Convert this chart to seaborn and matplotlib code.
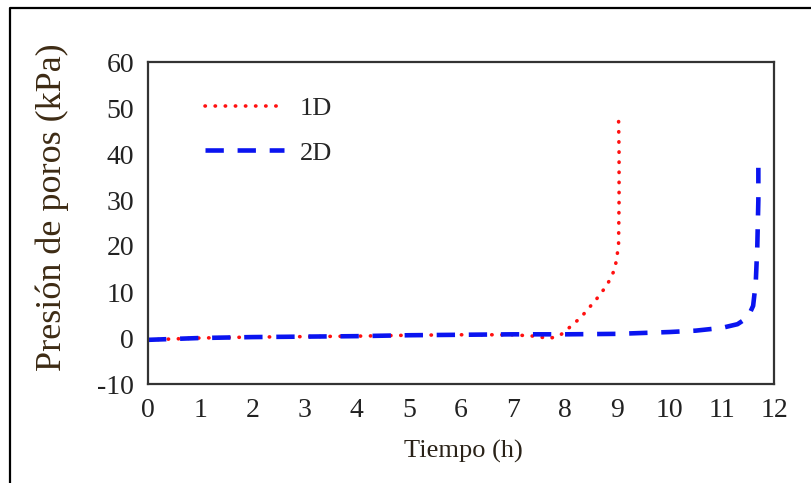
import numpy as np
import pandas as pd
import seaborn as sns
import matplotlib.pyplot as plt
from matplotlib.lines import Line2D

# data
t_1d = [0, 0.5, 1, 2, 3, 4, 5, 6, 7, 7.4, 7.7, 7.9, 8.0, 8.3, 8.6, 8.8, 8.95, 9.02, 9.03, 9.03, 9.02]
p_1d = [-0.4, -0.2, 0.0, 0.2, 0.3, 0.4, 0.6, 0.7, 0.7, 0.4, -0.1, 0.6, 1.5, 4.5, 8.5, 11.5, 15, 20, 30, 40, 48]

t_2d = [0, 1, 2, 3, 4, 5, 6, 7, 8, 9, 10, 10.5, 11, 11.3, 11.5, 11.6, 11.65, 11.68, 11.7, 11.7]
p_2d = [-0.4, 0.0, 0.2, 0.3, 0.4, 0.6, 0.7, 0.8, 0.8, 0.9, 1.3, 1.6, 2.2, 3.0, 4.5, 7, 12, 20, 30, 37]

x_ticks = list(range(0, 13))
y_ticks = [-10, 0, 10, 20, 30, 40, 50, 60]

sns.set_style("white")
plt.rcParams['font.family'] = ['Liberation Serif', 'DejaVu Serif']
plt.rcParams['axes.unicode_minus'] = False

dot_style = (0, (0.1, 2.7))
dash_style = (0, (4.0, 3.0))

fig = plt.figure(figsize=(8.12, 4.83), dpi=100)
ax = fig.add_axes([148 / 812, 1 - 384 / 483, 626 / 812, 322 / 483])

sns.lineplot(x=t_1d, y=p_1d, ax=ax, sort=False, estimator=None, color='#ff1010',
             linewidth=2.6, label='1D', dashes=False)
sns.lineplot(x=t_2d, y=p_2d, ax=ax, sort=False, estimator=None, color='#0a14f0',
             linewidth=3.3, label='2D', dashes=False)
ax.lines[0].set_linestyle(dot_style)
ax.lines[0].set_dash_capstyle('round')
ax.lines[1].set_linestyle(dash_style)

ax.set_xlim(0, 12)
ax.set_ylim(-10, 60)
ax.set_xticks(x_ticks)
ax.set_yticks(y_ticks)
ax.tick_params(axis='both', direction='in', length=6, width=1.5, color='#333333',
               labelsize=20, labelcolor='#222222', pad=10)
for s in ax.spines.values():
    s.set_color('#333333')
    s.set_linewidth(1.6)
ax.set_xlabel('')
ax.set_ylabel('')

leg = ax.legend(loc='upper left', bbox_to_anchor=(0.053, 0.965), frameon=False,
                fontsize=19, handlelength=3.0, handletextpad=0.6, labelspacing=0.78)
leg.get_lines()[0].set_linestyle(dot_style)
leg.get_lines()[0].set_dash_capstyle('round')
leg.get_lines()[1].set_linestyle(dash_style)

fig.text(463 / 812, 1 - 451 / 483, 'Tiempo (h)', ha='center', va='center',
         fontsize=19, color='#2a2218')
fig.text(52 / 812, 1 - 207 / 483, 'Presión de poros (kPa)', ha='center', va='center',
         rotation=90, fontsize=26, color='#3d2b14')

# outer frame (cropped at right and bottom)
fig.add_artist(Line2D([10 / 812, 10 / 812, 1.0], [0.0, 1 - 8 / 483, 1 - 8 / 483],
                      transform=fig.transFigure, color='black', linewidth=1.6))

fig.savefig('out.png', dpi=100)
